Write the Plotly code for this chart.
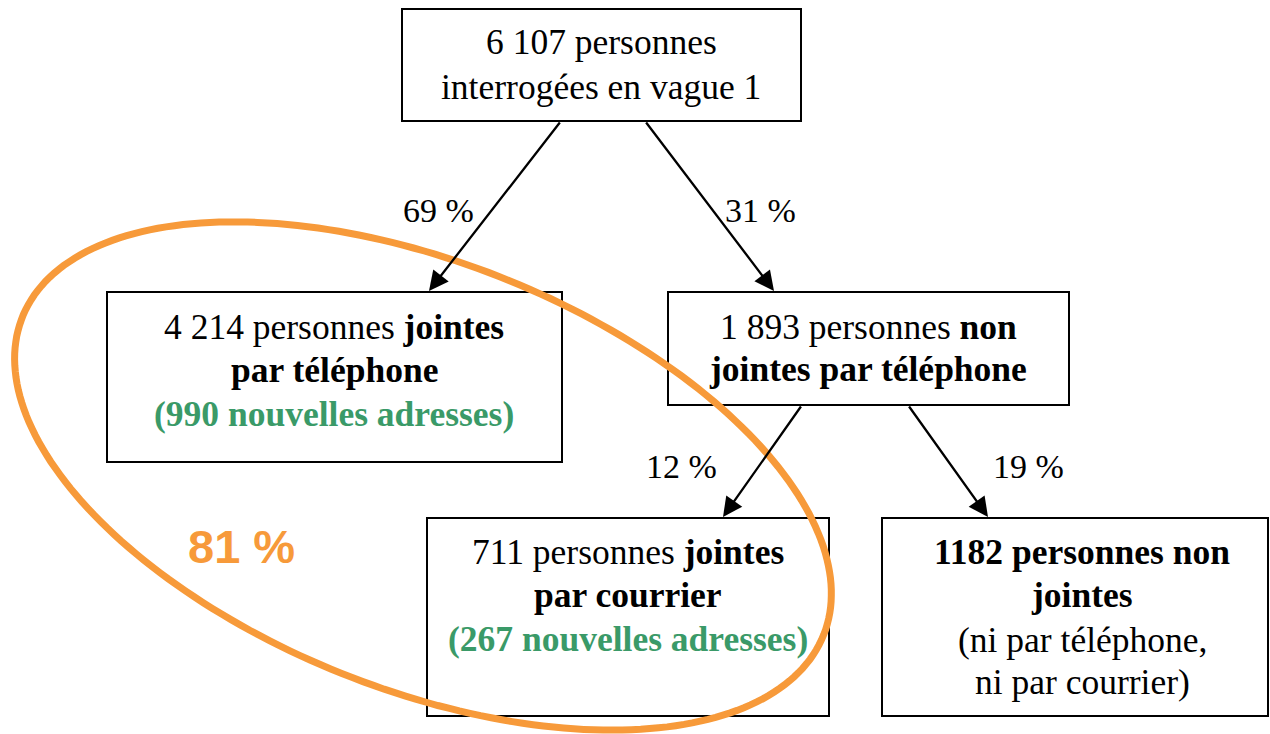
import numpy as np
import plotly.graph_objects as go

# ---- data ----
node_counts = ["6 107", "4 214", "1 893", "711", "1182"]
new_addresses = ["990", "267"]
branch_pcts = [69, 31, 12, 19]
overall_pct = 81

GREEN = "#3a9a68"
ORANGE = "#f79a3a"
SERIF = "'Liberation Serif', 'Times New Roman', Times, serif"
SANS = "'Liberation Sans', Arial, Helvetica, sans-serif"

def green(s):
    return f"<span style='color:{GREEN}'><b>{s}</b></span>"

node_lines = [
    [f"{node_counts[0]} personnes", "interrogées en vague 1"],
    [f"{node_counts[1]} personnes <b>jointes</b>", "<b>par téléphone</b>",
     green(f"({new_addresses[0]} nouvelles adresses)")],
    [f"{node_counts[2]} personnes <b>non</b>", "<b>jointes par téléphone</b>"],
    [f"{node_counts[3]} personnes <b>jointes</b>", "<b>par courrier</b>",
     green(f"({new_addresses[1]} nouvelles adresses)")],
    [f"<b>{node_counts[4]} personnes non</b>", "<b>jointes</b>", "(ni par téléphone,",
     "ni par courrier)"],
]

# layout (pixel coordinates, y downward)
boxes = [(402, 9, 801, 121), (107, 292, 562, 462), (668, 292, 1069, 405),
         (427, 518, 829, 716), (882, 518, 1268, 716)]
text_x = [601, 334, 868, 628, 1082]
line_baselines = [[55, 100], [340, 383, 427], [340, 382], [565, 608, 652],
                  [565, 608, 653, 695]]
arrows = [((561, 121), (429, 291)), ((645, 121), (774, 291)),
          ((802, 405), (723, 517)), ((908, 405), (988, 517))]
pct_pos = [(438, 223), (760, 223), (681, 479), (1028, 479)]
TXT_SIZE = 35.5
PCT_SIZE = 34
BASE_OFF = 0.36

fig = go.Figure()
fig.add_trace(go.Scatter(x=[0, 1270], y=[0, 734], mode="markers",
                         marker=dict(opacity=0), hoverinfo="skip", showlegend=False))

shapes = []
for (x0, y0, x1, y1) in boxes:
    shapes.append(dict(type="rect", x0=x0, y0=y0, x1=x1, y1=y1, xref="x", yref="y",
                       line=dict(color="black", width=2), fillcolor="white", layer="below"))

# orange ellipse (rotated)
cx, cy, a, b, th = 423, 476, 431, 213.5, np.deg2rad(21.6)
t = np.linspace(0, 2 * np.pi, 240)
ex = cx + a * np.cos(t) * np.cos(th) - b * np.sin(t) * np.sin(th)
ey = cy + a * np.cos(t) * np.sin(th) + b * np.sin(t) * np.cos(th)
path = "M " + " L ".join(f"{px:.1f},{py:.1f}" for px, py in zip(ex, ey)) + " Z"
shapes.append(dict(type="path", path=path, xref="x", yref="y",
                   line=dict(color=ORANGE, width=7), layer="above"))

annotations = []
for lines, x, bases in zip(node_lines, text_x, line_baselines):
    for txt, yb in zip(lines, bases):
        annotations.append(dict(x=x, y=yb - BASE_OFF * TXT_SIZE, xref="x", yref="y", text=txt,
                                showarrow=False, xanchor="center", yanchor="middle",
                                font=dict(family=SERIF, size=TXT_SIZE, color="black")))
for (s, e) in arrows:
    annotations.append(dict(x=e[0], y=e[1], ax=s[0], ay=s[1], xref="x", yref="y",
                            axref="x", ayref="y", text="", showarrow=True,
                            arrowhead=2, arrowsize=1.7, arrowwidth=2.3, arrowcolor="black"))
for p, (x, yb) in zip(branch_pcts, pct_pos):
    annotations.append(dict(x=x, y=yb - BASE_OFF * PCT_SIZE, xref="x", yref="y", text=f"{p} %",
                            showarrow=False, xanchor="center", yanchor="middle",
                            font=dict(family=SERIF, size=PCT_SIZE, color="black")))
annotations.append(dict(x=241, y=546, xref="x", yref="y", text=f"<b>{overall_pct} %</b>",
                        showarrow=False, xanchor="center", yanchor="middle",
                        font=dict(family=SANS, size=47, color=ORANGE)))

fig.update_layout(
    width=1270, height=734, margin=dict(l=0, r=0, t=0, b=0),
    paper_bgcolor="white", plot_bgcolor="white",
    xaxis=dict(range=[0, 1270], visible=False, fixedrange=True),
    yaxis=dict(range=[734, 0], visible=False, fixedrange=True),
    shapes=shapes, annotations=annotations, showlegend=False,
)
fig.write_html("out.html", config={"displayModeBar": False},
               post_script="document.body.style.margin='0';document.body.style.overflow='hidden';")
